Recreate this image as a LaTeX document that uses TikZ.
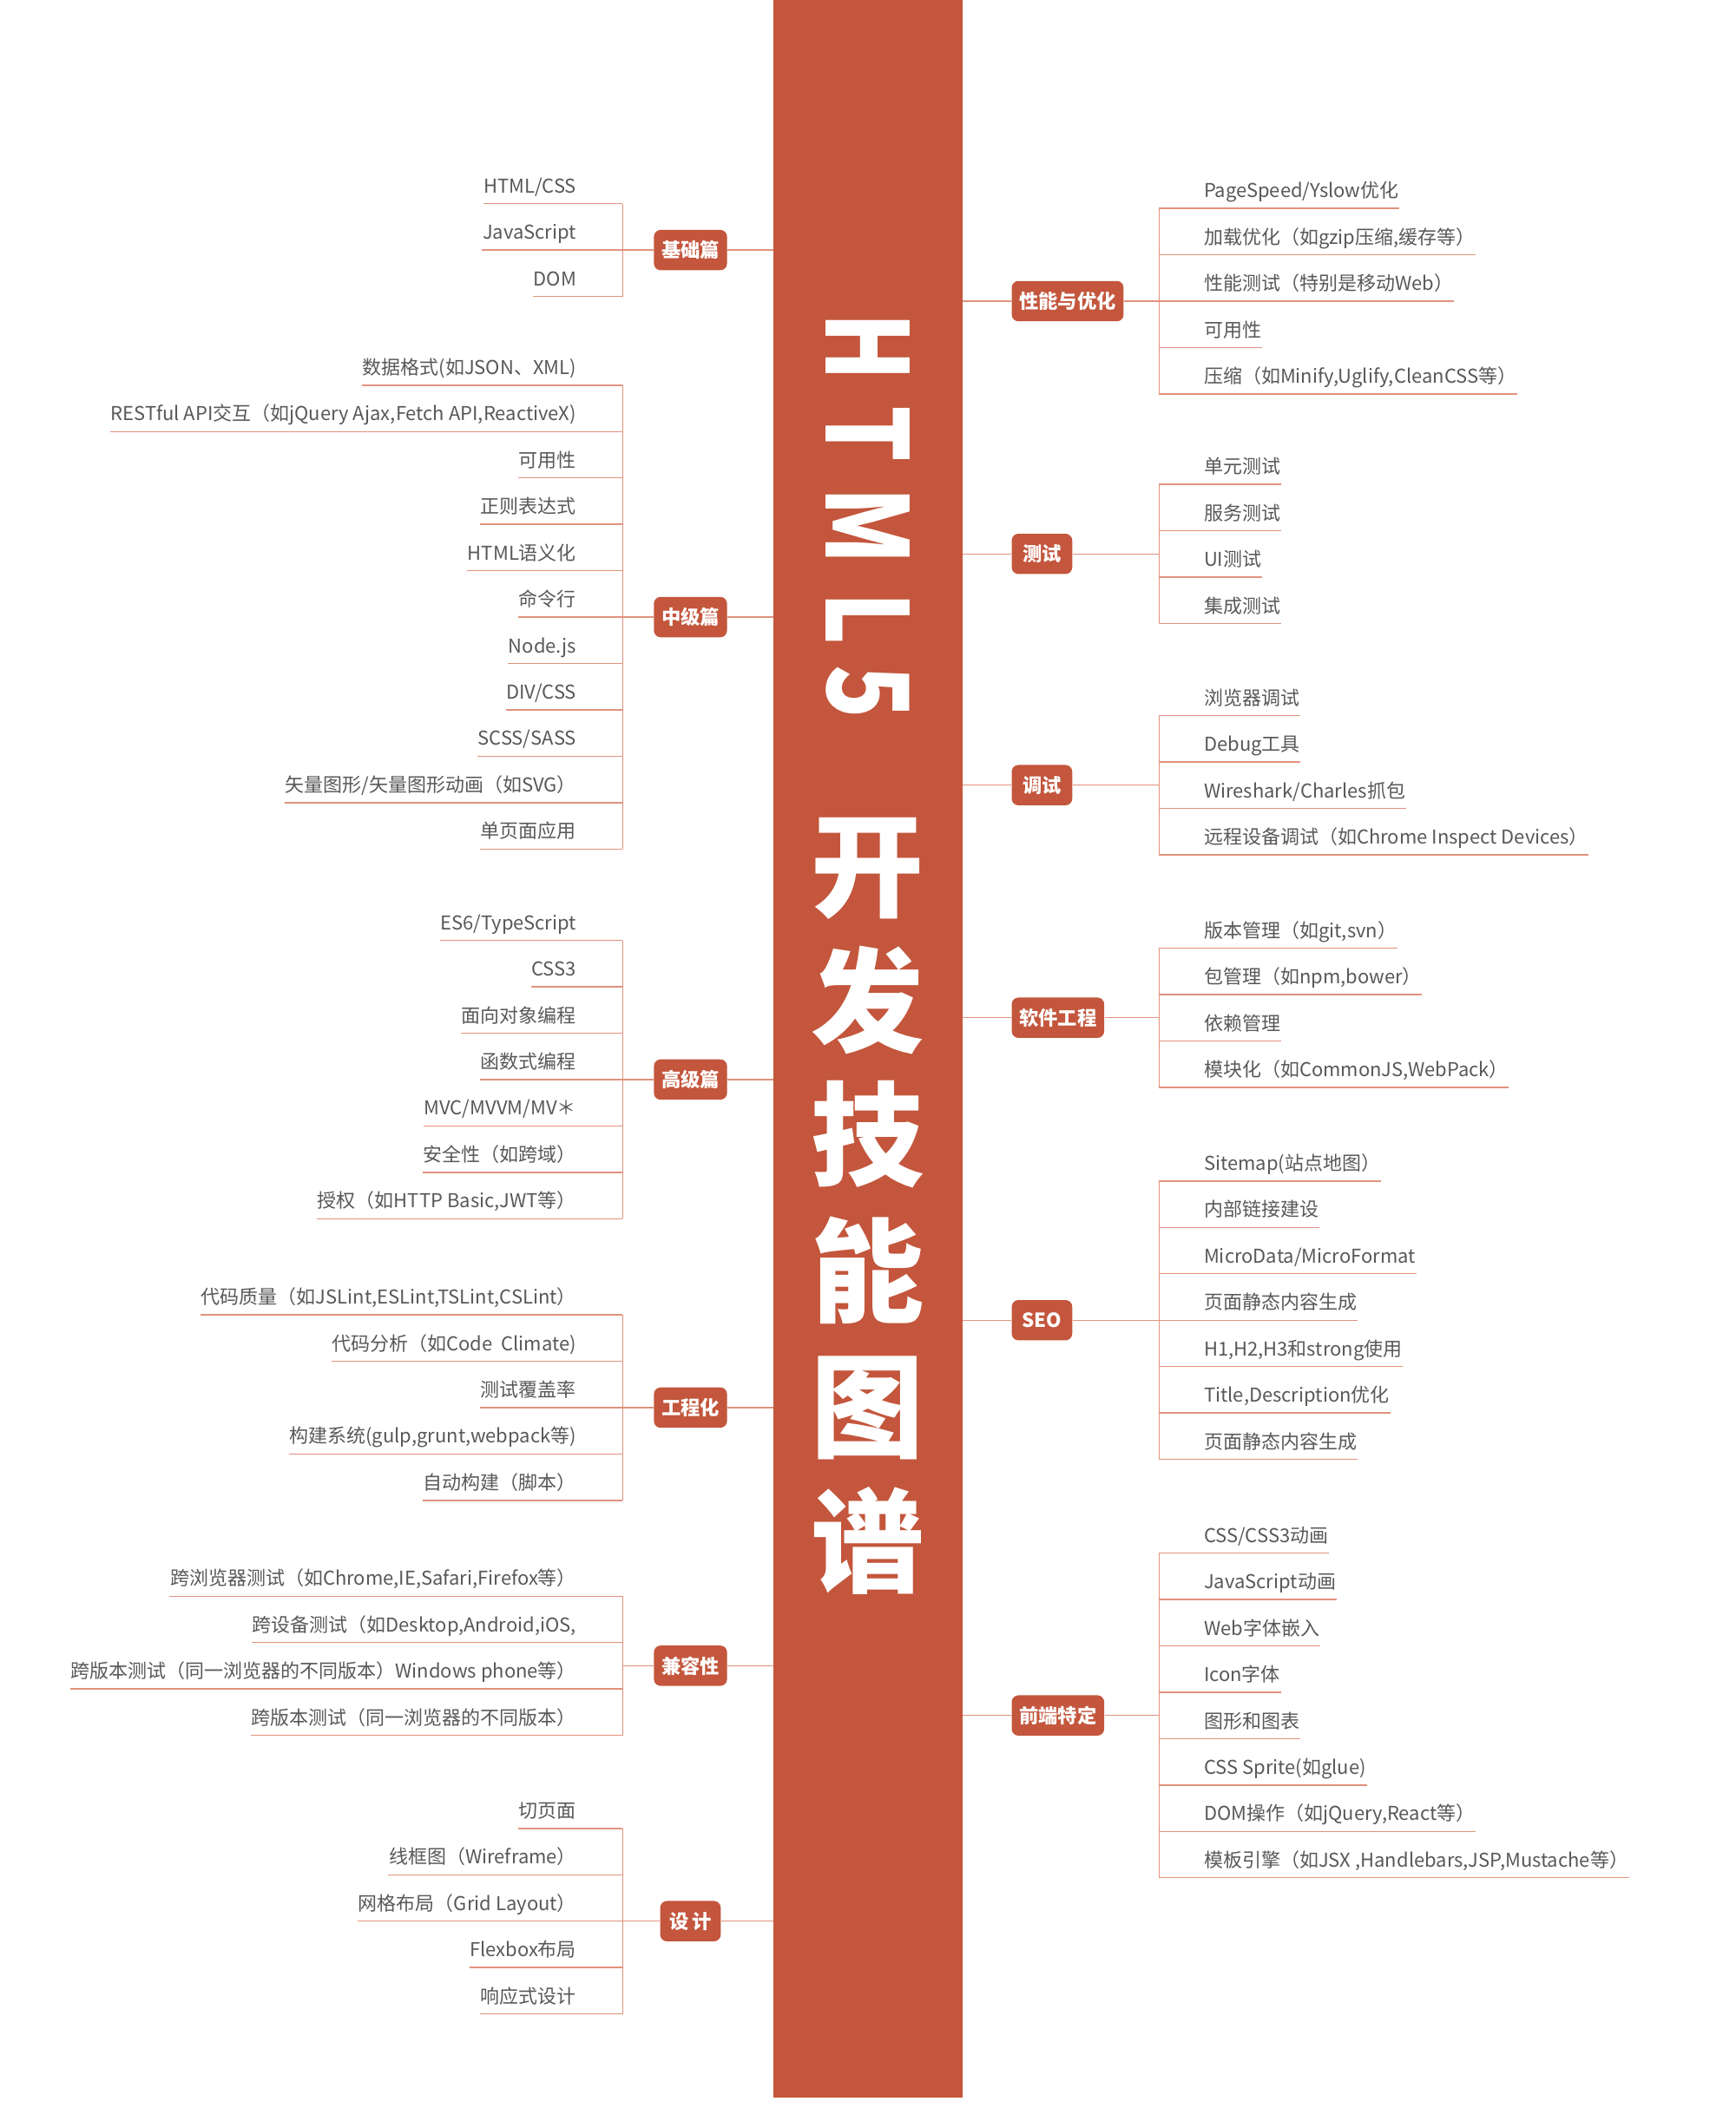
\documentclass[tikz,border=0pt]{standalone}
\usepackage{fontspec}
\setmainfont{Noto Sans CJK SC}
\newfontfamily\headfont{Noto Sans CJK SC}[FakeStretch=0.78]
\usepackage{xcolor}
\usetikzlibrary{positioning, calc}

\definecolor{Rust}{RGB}{195,86,60}
\definecolor{Salmon}{RGB}{226,146,126}
\definecolor{Ink}{RGB}{88,88,88}

\newcommand\branchleft[5]{%
    \node[topic] (#1) at (513.5,#3) {#2};
    \coordinate (#1-v) at (463,#3);
    \draw[twig] (spine.west |- #1) -- (#1) -- (#1-v);
    \foreach \t [count=\i] in {#5} {
        \node[leaf, anchor=south east] (#1-\i) at (429,{#3+34.5*(\i-(#4+1)/2)}) {\t};
        \draw[twig] (#1-\i.south west) -- (#1-v |- #1-\i.south);
    }
    \draw[twig] (#1-v |- #1-1.south) -- (#1-v |- #1-#4.south);
}
\newcommand\branchright[5]{%
    \node[topic, anchor=west] (#1) at (752,#3) {#2};
    \coordinate (#1-v) at (862,#3);
    \draw[twig] (spine.east |- #1) -- (#1) -- (#1-v);
    \foreach \t [count=\i] in {#5} {
        \node[leaf, anchor=south west] (#1-\i) at (895,{#3+34.5*(\i-(#4+1)/2)}) {\t};
        \draw[twig] (#1-v |- #1-\i.south) -- (#1-\i.south east);
    }
    \draw[twig] (#1-v |- #1-1.south) -- (#1-v |- #1-#4.south);
}

\begin{document}
\begin{tikzpicture}[
    x=0.5pt, y=-0.5pt,
    spinebar/.style={fill=Rust, inner sep=0pt, outer sep=0pt,
        minimum width=70.5pt, minimum height=780pt},
    topic/.style={fill=Rust, text=white, rounded corners=2.5pt,
        minimum width=22.5pt, minimum height=15pt, inner xsep=2.8pt, inner ysep=0pt,
        font=\fontsize{7.2}{8}\selectfont\bfseries},
    leaf/.style={text=Ink, inner sep=0pt, text depth=3.8pt,
        font=\fontsize{7.1}{8}\selectfont},
    twig/.style={draw=Salmon, line width=0.45pt},
    title/.style={text=white, inner sep=0pt, font=\fontsize{42}{42}\selectfont\bfseries},
    latin/.style={title, font=\fontsize{42}{42}\headfont\bfseries, rotate=-90},
]
    \useasboundingbox (0,0) rectangle (1291,1568);
    \node[spinebar, anchor=north west] (spine) at (575,0) {};

    \foreach \c/\y [count=\k] in {H/258, T/323, M/391, L/460, 5/515}
        \node[latin] (head-\k) at (645.5,\y) {\c};
    \foreach \c/\y [count=\k] in {开/646, 发/744, 技/844, 能/945, 图/1047, 谱/1146}
        \node[title] (word-\k) at (645.5,\y) {\c};

    \branchleft{base}{基础篇}{186}{3}{HTML/CSS, JavaScript, DOM}
    \branchleft{mid}{中级篇}{459}{11}{数据格式(如JSON、XML), {RESTful API交互（如jQuery Ajax,Fetch API,ReactiveX)},
        可用性, 正则表达式, HTML语义化, 命令行, Node.js, DIV/CSS, SCSS/SASS, 矢量图形/矢量图形动画（如SVG）, 单页面应用}
    \branchleft{adv}{高级篇}{803}{7}{ES6/TypeScript, CSS3, 面向对象编程, 函数式编程, MVC/MVVM/MV＊,
        安全性（如跨域）, {授权（如HTTP Basic,JWT等）}}
    \branchleft{eng}{工程化}{1047}{5}{{代码质量（如JSLint,ESLint,TSLint,CSLint）}, 代码分析（如Code\ \ Climate),
        测试覆盖率, {构建系统(gulp,grunt,webpack等)}, 自动构建（脚本）}
    \branchleft{compat}{兼容性}{1239}{4}{{跨浏览器测试（如Chrome,IE,Safari,Firefox等）}, {跨设备测试（如Desktop,Android,iOS,},
        跨版本测试（同一浏览器的不同版本）Windows phone等）, 跨版本测试（同一浏览器的不同版本）}
    \branchleft{design}{设\,计}{1429}{5}{切页面, 线框图（Wireframe）, 网格布局（Grid Layout）, Flexbox布局, 响应式设计}

    \branchright{perf}{性能与优化}{224}{5}{PageSpeed/Yslow优化, {加载优化（如gzip压缩,缓存等）}, 性能测试（特别是移动Web）,
        可用性, {压缩（如Minify,Uglify,CleanCSS等）}}
    \branchright{test}{测试}{412}{4}{单元测试, 服务测试, UI测试, 集成测试}
    \branchright{debug}{调试}{584}{4}{浏览器调试, Debug工具, Wireshark/Charles抓包, 远程设备调试（如Chrome Inspect Devices）}
    \branchright{soft}{软件工程}{757}{4}{{版本管理（如git,svn）}, {包管理（如npm,bower）}, 依赖管理, {模块化（如CommonJS,WebPack）}}
    \branchright{seo}{SEO}{982}{7}{Sitemap(站点地图）, 内部链接建设, MicroData/MicroFormat, 页面静态内容生成,
        {H1,H2,H3和strong使用}, {Title,Description优化}, 页面静态内容生成}
    \branchright{front}{前端特定}{1276}{8}{CSS/CSS3动画, JavaScript动画, Web字体嵌入, Icon字体, 图形和图表, CSS Sprite(如glue),
        {DOM操作（如jQuery,React等）}, {模板引擎（如JSX ,Handlebars,JSP,Mustache等）}}
\end{tikzpicture}
\end{document}
